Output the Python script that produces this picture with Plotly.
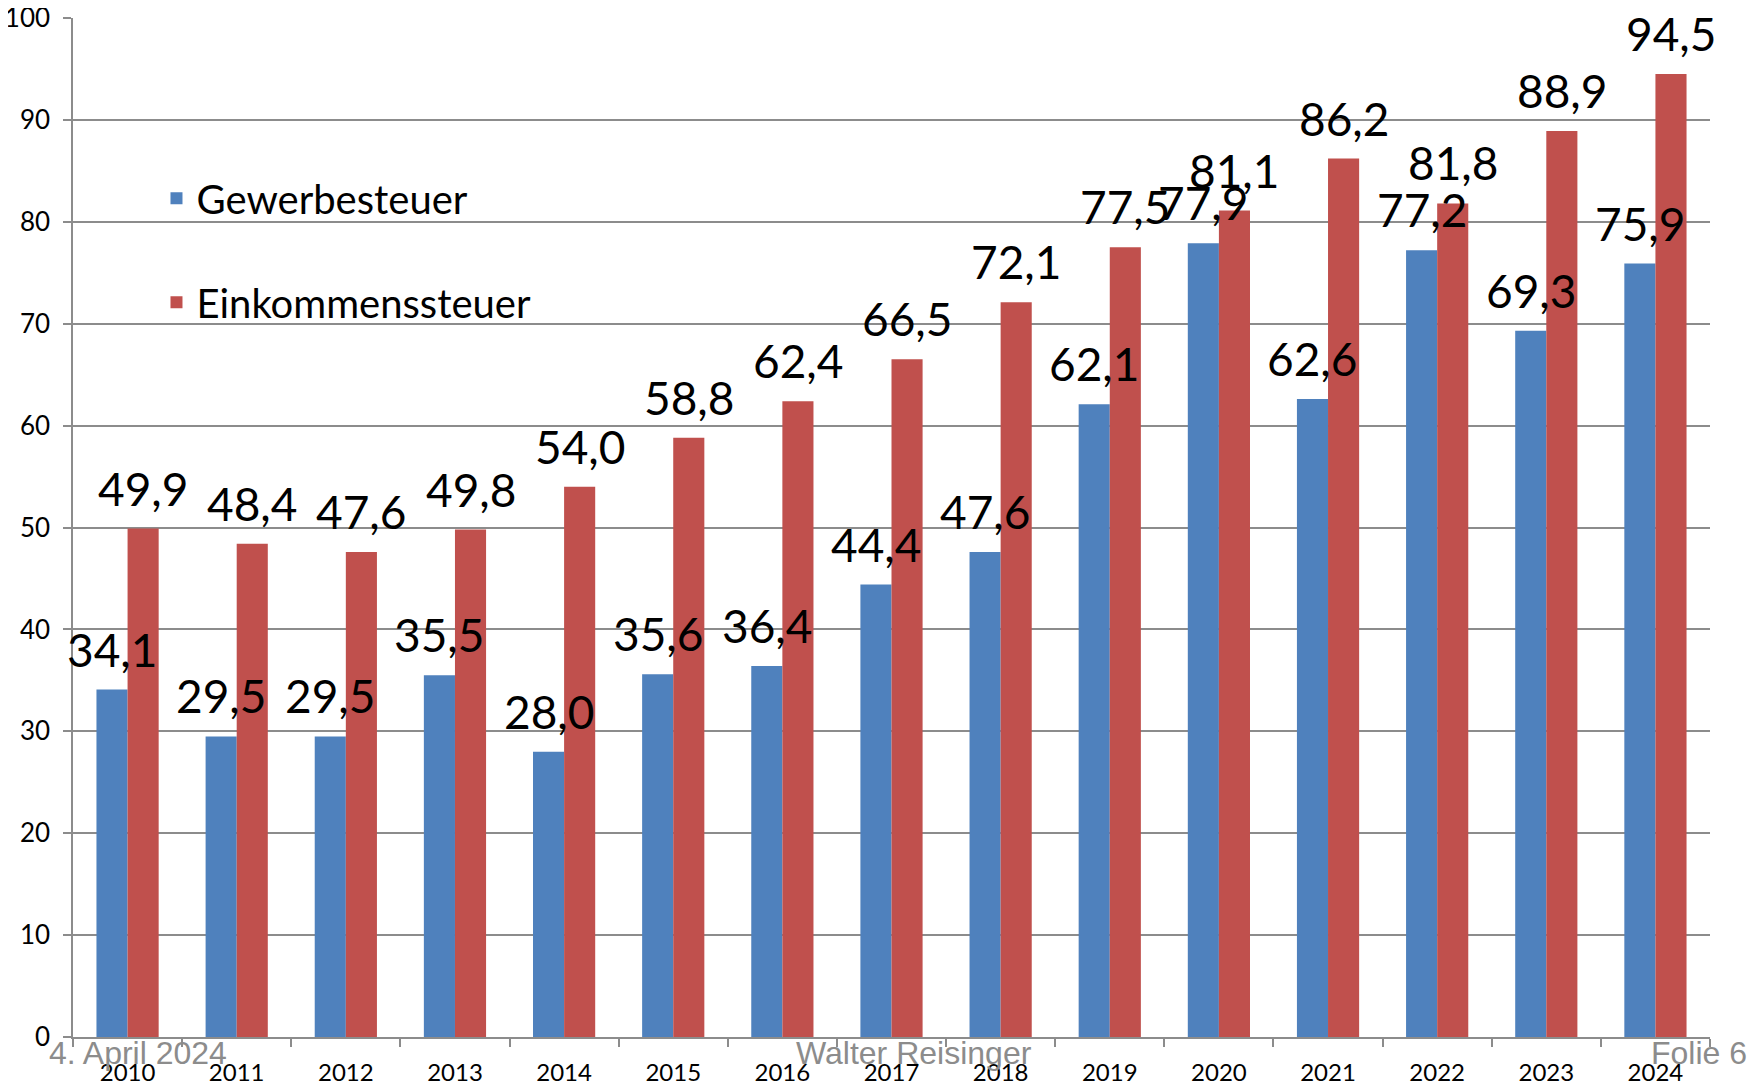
import plotly.graph_objects as go

years = ["2010", "2011", "2012", "2013", "2014", "2015", "2016", "2017",
         "2018", "2019", "2020", "2021", "2022", "2023", "2024"]
gewerbesteuer = [34.1, 29.5, 29.5, 35.5, 28.0, 35.6, 36.4, 44.4, 47.6,
                 62.1, 77.9, 62.6, 77.2, 69.3, 75.9]
einkommensteuer = [49.9, 48.4, 47.6, 49.8, 54.0, 58.8, 62.4, 66.5, 72.1,
                   77.5, 81.1, 86.2, 81.8, 88.9, 94.5]
series_names = ["Gewerbesteuer", "Einkommenssteuer"]
footer_texts = ["4. April 2024", "Walter Reisinger", "Folie 6"]

BLUE = "#4F81BD"
RED = "#C0504D"
GRID = "#8C8C8C"
FONT = "Lato, Open Sans, sans-serif"
LABEL_FONT = dict(family=FONT, size=46, color="black")

# page body has an 8px margin, so the figure is sized to fill the rest
W, H = 1754, 1078
M = dict(l=65, r=52, t=10, b=49)
BARGAP = 0.43

fig = go.Figure()
for name, vals, col, grp in [(series_names[0], gewerbesteuer, BLUE, "a"),
                             (series_names[1], einkommensteuer, RED, "b")]:
    fig.add_trace(go.Bar(
        x=years, y=vals, name=name, legendgroup=grp,
        marker=dict(color=col, line=dict(width=0)),
    ))

# value labels drawn above all bars, positioned via the axis scales
plot_w = W - M["l"] - M["r"]
cat_w = plot_w / len(years)
bar_w = cat_w * (1 - BARGAP) / 2
for vals, sign in [(gewerbesteuer, -1), (einkommensteuer, 1)]:
    for i, v in enumerate(vals):
        fig.add_annotation(
            x=i, y=v, xref="x", yref="y",
            text=f"{v:.1f}".replace(".", ","),
            showarrow=False, xanchor="center", yanchor="bottom",
            xshift=sign * bar_w / 2, yshift=12, borderpad=0,
            font=LABEL_FONT,
        )

fig.update_layout(
    width=W, height=H,
    margin=dict(**M, autoexpand=False),
    paper_bgcolor="white", plot_bgcolor="white",
    barmode="group", bargap=BARGAP, bargroupgap=0,
    font=dict(family=FONT, color="black"),
    showlegend=True,
    legend=dict(
        x=0.051, y=0.855, xanchor="left", yanchor="top",
        traceorder="grouped", tracegroupgap=49,
        font=dict(size=40, color="black"),
        bgcolor="rgba(0,0,0,0)",
    ),
    xaxis=dict(
        type="category", showgrid=False, automargin=False,
        range=[-0.5, len(years) - 0.5],
        showline=True, linecolor=GRID, linewidth=1.5,
        ticks="outside", tickson="boundaries", ticklen=8, tickcolor=GRID,
        tickwidth=1.5, ticklabelstandoff=13, ticklabeloverflow="allow",
        tickfont=dict(size=24, color="black"),
    ),
    yaxis=dict(
        range=[0, 100], dtick=10, showgrid=True, gridcolor=GRID, gridwidth=1.5,
        showline=True, linecolor=GRID, linewidth=1.5, automargin=False,
        ticks="outside", ticklen=8, tickcolor=GRID, tickwidth=1.5,
        ticklabelstandoff=8, ticklabeloverflow="allow",
        tickfont=dict(size=26, color="black"), zeroline=False,
    ),
)

foot_font = dict(family="Liberation Sans, Arial, sans-serif", size=32, color="#8C8C8C")
for txt, xpos, anchor in [(footer_texts[0], -0.0159, "left"),
                          (footer_texts[1], 0.5138, "center"),
                          (footer_texts[2], 1.0238, "right")]:
    fig.add_annotation(text=txt, xref="paper", yref="paper", x=xpos, y=-0.0157,
                       xanchor=anchor, yanchor="middle", showarrow=False,
                       font=foot_font)

fig.write_html("out.html")
